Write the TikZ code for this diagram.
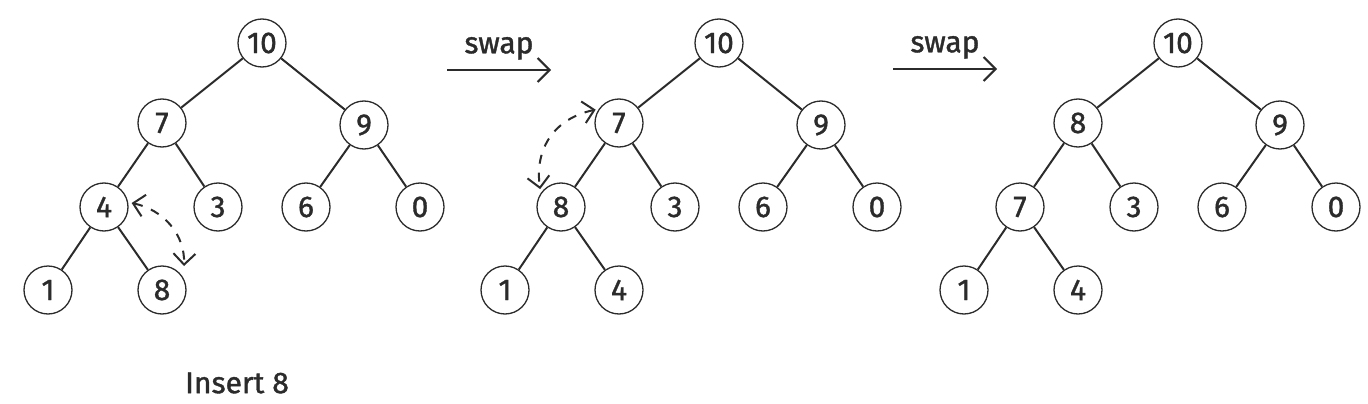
\documentclass[tikz,border=0pt]{standalone}
\usepackage{fontspec}
\setmainfont{Fira Sans}[FakeBold=1.2]
\usetikzlibrary{arrows.meta}
\definecolor{ink}{HTML}{2B2B2B}
\tikzset{
  hnode/.style={circle, draw=ink, line width=1.3pt, minimum size=48pt, inner sep=0pt,
    font=\fontsize{30}{30}\selectfont, text=ink},
  hedge/.style={draw=ink, line width=2pt},
  swaparrow/.style={draw=ink, line width=2pt, -{Straight Barb[length=12pt,width=24pt,line width=2pt]}},
  swapdash/.style={draw=ink, line width=2pt, dash pattern=on 9pt off 9pt,
    {Straight Barb[length=11pt,width=22pt,line width=2pt]}-{Straight Barb[length=11pt,width=22pt,line width=2pt]}},
  lbl/.style={font=\fontsize{30}{30}\selectfont, text=ink},
}
\newcommand\myheaptree[4]{%
  \node[hnode] (#1r)   at (0,0)      {10};
  \node[hnode] (#1l)   at (-100,80)  {#2};
  \node[hnode] (#1rt)  at (102,82)   {9};
  \node[hnode] (#1ll)  at (-158,164) {#3};
  \node[hnode] (#1lr)  at (-44,164)  {3};
  \node[hnode] (#1rl)  at (44,164)   {6};
  \node[hnode] (#1rr)  at (158,164)  {0};
  \node[hnode] (#1lll) at (-214,247) {1};
  \node[hnode] (#1llr) at (-100,247) {#4};
  \draw[hedge] (#1r) -- (#1l);
  \draw[hedge] (#1r) -- (#1rt);
  \draw[hedge] (#1l) -- (#1ll);
  \draw[hedge] (#1l) -- (#1lr);
  \draw[hedge] (#1rt) -- (#1rl);
  \draw[hedge] (#1rt) -- (#1rr);
  \draw[hedge] (#1ll) -- (#1lll);
  \draw[hedge] (#1ll) -- (#1llr);
}
\begin{document}
\begin{tikzpicture}[x=1pt,y=-1pt]
\useasboundingbox (0,0) rectangle (1368,404);
\begin{scope}[shift={(262,43)}]
  \myheaptree{a}{7}{4}{8}
\end{scope}
\begin{scope}[shift={(719,43)}]
  \myheaptree{b}{7}{8}{4}
\end{scope}
\begin{scope}[shift={(1178,43)}]
  \myheaptree{c}{8}{7}{4}
\end{scope}
% dashed swap indicators
\draw[swapdash] ([shift={(3,-4)}]all.east) to[out=-12,in=88] ([shift={(22,-24)}]allr.center);
\draw[swapdash] ([shift={(-2,-1)}]bl.150) to[out=192,in=98,looseness=1.1] ([shift={(-2,-2)}]bll.140);
% swap arrows
\coordinate (s1a) at (447,70);
\coordinate (s1b) at (551,70);
\coordinate (s2a) at (893,69);
\coordinate (s2b) at (997,69);
\draw[swaparrow] (s1a) -- (s1b) node[midway, lbl, anchor=south, yshift=6pt] (sw1) {swap};
\draw[swaparrow] (s2a) -- (s2b) node[midway, lbl, anchor=south, yshift=6pt] (sw2) {swap};
\node[lbl] (cap) at (237,383) {Insert 8};
\end{tikzpicture}
\end{document}
